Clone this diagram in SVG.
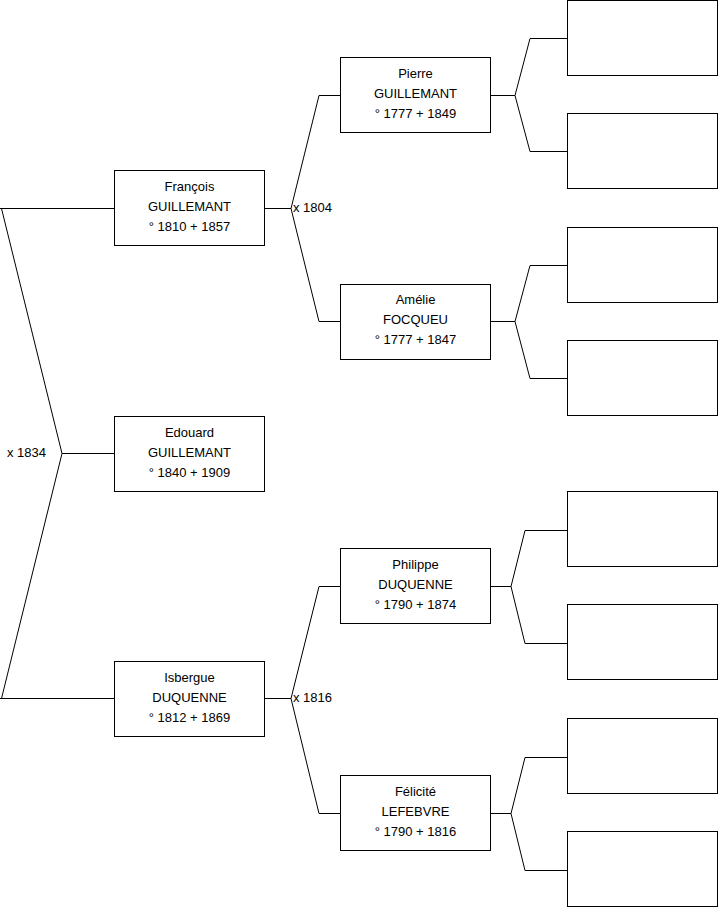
<svg xmlns="http://www.w3.org/2000/svg" width="719" height="908" viewBox="0 0 719 908">
<style>
.box{fill:#fff;stroke:#000;stroke-width:1}
.ln{fill:none;stroke:#000;stroke-width:1}
text{font-family:"Liberation Sans",Arial,sans-serif;font-size:13px;fill:#000}
.c{text-anchor:middle}
</style>
<rect width="719" height="908" fill="#fff"/>
<g id="connectors">
<path class="ln" d="M0,208.5H114.5M1.5,208.5L62,453.5L1.5,698.5M0,698.5H114.5M62,453.5H114.5"/>
<path class="ln" d="M265,208.5H291M319,95.5L291,208.5L319,321.5M319,95.5H340M319,321.5H340"/>
<path class="ln" d="M265,698.5H291M319,586.5L291,698.5L319,813.5M319,586.5H340M319,813.5H340"/>
<path class="ln" d="M491,95.5H515M530,38.5L515,95.5L530,151.5M530,38.5H567M530,151.5H567"/>
<path class="ln" d="M491,321.5H515M530,265.5L515,321.5L530,378.5M530,265.5H567M530,378.5H567"/>
<path class="ln" d="M491,586.5H511M525,530.5L511,586.5L525,643.5M525,530.5H567M525,643.5H567"/>
<path class="ln" d="M491,813.5H511M525,757.5L511,813.5L525,870.5M525,757.5H567M525,870.5H567"/>
<text x="7" y="457">x 1834</text>
<text x="293" y="212">x 1804</text>
<text x="293" y="702">x 1816</text>
</g>
<g id="francois"><rect class="box" x="114.5" y="170.5" width="150" height="75"/>
<text class="c" x="189.5" y="191">François</text><text class="c" x="189.5" y="211">GUILLEMANT</text><text class="c" x="189.5" y="231">° 1810 + 1857</text></g>
<g id="edouard"><rect class="box" x="114.5" y="416.5" width="150" height="75"/>
<text class="c" x="189.5" y="437">Edouard</text><text class="c" x="189.5" y="457">GUILLEMANT</text><text class="c" x="189.5" y="477">° 1840 + 1909</text></g>
<g id="isbergue"><rect class="box" x="114.5" y="661.5" width="150" height="75"/>
<text class="c" x="189.5" y="682">Isbergue</text><text class="c" x="189.5" y="702">DUQUENNE</text><text class="c" x="189.5" y="722">° 1812 + 1869</text></g>
<g id="pierre"><rect class="box" x="340.5" y="57.5" width="150" height="75"/>
<text class="c" x="415.5" y="78">Pierre</text><text class="c" x="415.5" y="98">GUILLEMANT</text><text class="c" x="415.5" y="118">° 1777 + 1849</text></g>
<g id="amelie"><rect class="box" x="340.5" y="284.5" width="150" height="75"/>
<text class="c" x="415.5" y="304">Amélie</text><text class="c" x="415.5" y="324">FOCQUEU</text><text class="c" x="415.5" y="344">° 1777 + 1847</text></g>
<g id="philippe"><rect class="box" x="340.5" y="548.5" width="150" height="75"/>
<text class="c" x="415.5" y="569">Philippe</text><text class="c" x="415.5" y="589">DUQUENNE</text><text class="c" x="415.5" y="609">° 1790 + 1874</text></g>
<g id="felicite"><rect class="box" x="340.5" y="775.5" width="150" height="75"/>
<text class="c" x="415.5" y="796">Félicité</text><text class="c" x="415.5" y="816">LEFEBVRE</text><text class="c" x="415.5" y="836">° 1790 + 1816</text></g>
<g id="gg1"><rect class="box" x="567.5" y="0.5" width="150" height="75"/></g>
<g id="gg2"><rect class="box" x="567.5" y="113.5" width="150" height="75"/></g>
<g id="gg3"><rect class="box" x="567.5" y="227.5" width="150" height="75"/></g>
<g id="gg4"><rect class="box" x="567.5" y="340.5" width="150" height="75"/></g>
<g id="gg5"><rect class="box" x="567.5" y="491.5" width="150" height="75"/></g>
<g id="gg6"><rect class="box" x="567.5" y="604.5" width="150" height="75"/></g>
<g id="gg7"><rect class="box" x="567.5" y="718.5" width="150" height="75"/></g>
<g id="gg8"><rect class="box" x="567.5" y="831.5" width="150" height="75"/></g>
</svg>
